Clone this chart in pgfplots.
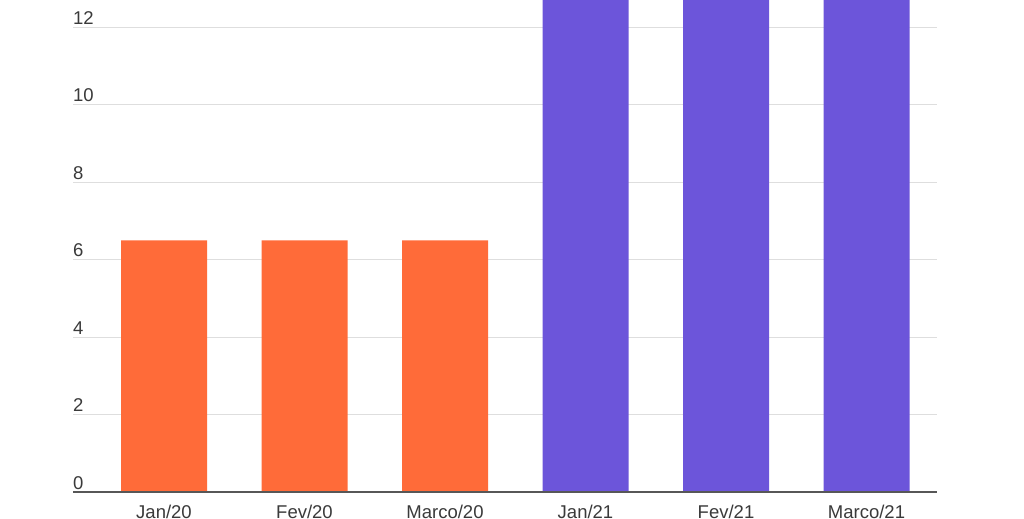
\documentclass[border=0pt]{standalone}
\usepackage{pgfplots}
\pgfplotsset{compat=1.18}
\usepackage{fontspec}
\setmainfont{Liberation Sans}
\definecolor{orangebar}{HTML}{FF6B39}
\definecolor{purplebar}{HTML}{6C55DA}
\definecolor{txt}{HTML}{3A3A3A}
\definecolor{grid}{HTML}{DEDEDE}
\begin{document}
\begin{tikzpicture}
\fill[white] (0,0) rectangle (1024pt,512pt);
\begin{axis}[
  at={(73pt,20pt)}, anchor=south west,
  scale only axis, width=864pt, height=492pt,
  xmin=-0.6477, xmax=5.5018, ymin=0, ymax=12.7,
  axis line style={draw=none},
  ytick={0,2,4,6,8,10,12},
  xmajorgrids=false, ymajorgrids=true,
  y grid style={grid, line width=1.2pt},
  major tick length=0pt,
  xtick={0,1,2,3,4,5},
  xticklabels={Jan/20,Fev/20,Marco/20,Jan/21,Fev/21,Marco/21},
  font=\fontsize{18.5}{22}\selectfont,
  /pgf/number format/assume math mode=true,
  yticklabel style={anchor=south west, inner sep=0pt, xshift=0pt, yshift=2.5pt, text=txt},
  xticklabel style={anchor=north, inner sep=0pt, yshift=-12.5pt, text=txt},
  ybar, bar width=86pt, bar shift=0pt,
]
\addplot[fill=orangebar, draw=none] coordinates {(0,6.5) (1,6.5) (2,6.5)};
\addplot[fill=purplebar, draw=none] coordinates {(3,13.5) (4,13.5) (5,13.5)};
\draw[txt!85, line width=2.8pt] (axis cs:-0.6477,0) -- (axis cs:5.5018,0);
\end{axis}
\path[use as bounding box] (0,0) rectangle (1024pt,512pt);
\end{tikzpicture}
\end{document}
